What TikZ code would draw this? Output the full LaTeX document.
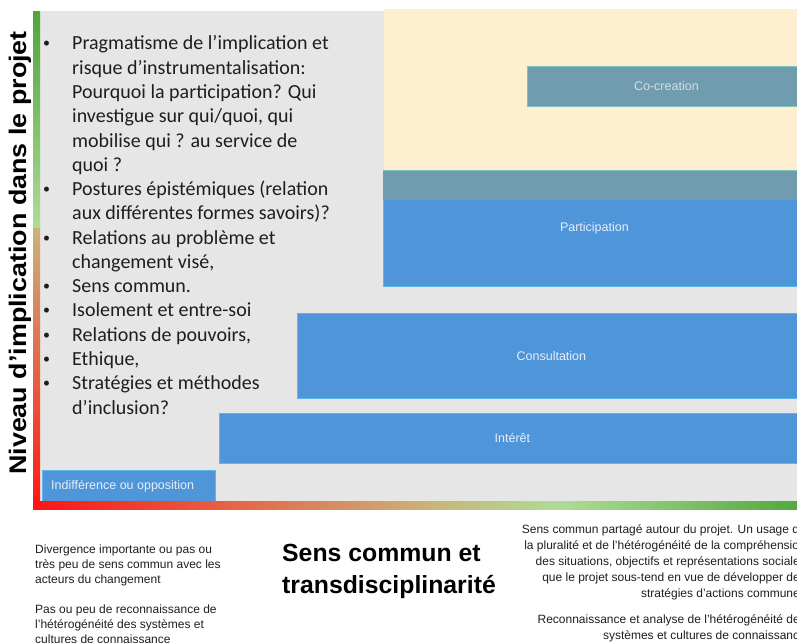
\documentclass[tikz,border=0pt]{standalone}
\usepackage{fontspec}
\usepackage{graphicx}
\setmainfont{Liberation Sans}
\newfontfamily\calib{Carlito}
\definecolor{panelgray}{HTML}{E6E6E6}
\definecolor{boxblue}{HTML}{4F95D9}
\definecolor{boxedge}{HTML}{5CB8E6}
\definecolor{teal}{HTML}{6F9DAF}
\definecolor{tealedge}{HTML}{7FC3BE}
\definecolor{beige}{HTML}{FEEFD0}
\definecolor{boxtxt}{HTML}{E6EEF8}
\definecolor{cotxt}{HTML}{D6DEE0}
\definecolor{axgreen}{HTML}{4FA53A}
\definecolor{axlgreen}{HTML}{AEDC96}
\definecolor{axtan}{HTML}{C9B479}
\definecolor{axorange}{HTML}{DC7A58}
\definecolor{axred}{HTML}{FF1414}
\definecolor{txt}{HTML}{1E1E1E}
\begin{document}
\begin{tikzpicture}[x=1pt,y=-1pt,
  bluebox/.style={fill=boxblue, draw=boxedge, line width=0.8pt, inner sep=0pt, text=boxtxt, font=\fontsize{12.5}{14}\selectfont},
  tealbox/.style={fill=teal, draw=tealedge, line width=0.8pt, inner sep=0pt, text=cotxt, font=\fontsize{12.5}{14}\selectfont},
  bul/.style={inner sep=0pt, text=txt, font=\calib\fontsize{20}{24}\selectfont},
  dotmark/.style={inner sep=0pt, text=txt, font=\calib\fontsize{14}{16}\selectfont},
  small/.style={inner sep=0pt, text=txt, font=\fontsize{12}{14}\selectfont},
  title/.style={inner sep=0pt, text=black, font=\bfseries\fontsize{24.8}{30}\selectfont}]
\useasboundingbox (0,0) rectangle (797,642);
\begin{scope}
\clip (0,0) rectangle (797,642);
% panels
\fill[panelgray] (40,11) rectangle (810,501);
\fill[beige] (384,9) rectangle (810,170);
% boxes
\node[bluebox, anchor=north west, minimum width=422pt, minimum height=116pt] (part) at (383,170) {Participation};
\fill[teal] (383,170) rectangle (810,200);
\draw[tealedge, line width=0.8pt] (383,170) -- (810,170);
\node[tealbox, anchor=north west, minimum width=278pt, minimum height=40pt] (cocr) at (527,66) {Co-creation};
\node[bluebox, anchor=north west, minimum width=508pt, minimum height=85pt] (cons) at (297,313) {Consultation};
\node[bluebox, anchor=north west, minimum width=586pt, minimum height=50pt] (inte) at (219,413) {Intérêt};
\node[bluebox, anchor=north west, minimum width=173pt, minimum height=31pt] (indi) at (42,470) {};
\node[inner sep=0pt, text=boxtxt, font=\fontsize{12.5}{14}\selectfont, anchor=west] (inditxt) at (51,486) {Indifférence ou opposition};
% axes
\shade[top color=axgreen, bottom color=axlgreen] (33,12) rectangle (40,228);
\shade[top color=axtan, middle color=axorange, bottom color=axred] (33,228) rectangle (40,509);
\shade[left color=axred, right color=axtan] (33,501) rectangle (430,509);
\shade[left color=axtan, right color=axlgreen] (430,501) rectangle (560,509);
\shade[left color=axlgreen, right color=axgreen] (560,501) rectangle (810,509);
\node[rotate=90, anchor=base, inner sep=0pt, text=black, font=\bfseries\fontsize{24}{28}\selectfont] (ylab) at (26,253) {\scalebox{1.12}[1]{Niveau d’implication dans le projet}};
% bullet list
\foreach \t [count=\i] in {{Pragmatisme de l’implication et},{risque d’instrumentalisation:},{Pourquoi la participation? Qui},{investigue sur qui/quoi, qui},{mobilise qui ? au service de},{quoi ?},{Postures épistémiques (relation},{aux différentes formes savoirs)?},{Relations au problème et},{changement visé,},{Sens commun.},{Isolement et entre-soi},{Relations de pouvoirs,},{Ethique,},{Stratégies et méthodes},{d’inclusion?}}
  \node[bul, anchor=base west] (line\i) at (72,{50+(\i-1)*24.27}) {\t};
\foreach \i in {1,7,9,11,12,13,14,15}
  \node[dotmark, anchor=base west] (dot\i) at (43,{48+(\i-1)*24.27}) {•};
% bottom left
\foreach \t [count=\i] in {{Divergence importante ou pas ou},{très peu de sens commun avec les},{acteurs du changement}}
  \node[small, anchor=base west] (la\i) at (35,{553+(\i-1)*15.3}) {\t};
\foreach \t [count=\i] in {{Pas ou peu de reconnaissance de},{l'hétérogénéité des systèmes et},{cultures de connaissance}}
  \node[small, anchor=base west] (lb\i) at (35,{613+(\i-1)*15.3}) {\t};
% title
\node[title, anchor=base west] (t1) at (282,561) {Sens commun et};
\node[title, anchor=base west] (t2) at (282,593) {transdisciplinarité};
% bottom right
\foreach \t [count=\i] in {{Sens commun partagé autour du projet. Un usage de},{la pluralité et de l’hétérogénéité de la compréhension},{des situations, objectifs et représentations sociales},{que le projet sous-tend en vue de développer des},{stratégies d'actions communes}}
  \node[small, anchor=base east] (ra\i) at (806,{533+(\i-1)*16}) {\t};
\foreach \t [count=\i] in {{Reconnaissance et analyse de l'hétérogénéité des},{systèmes et cultures de connaissance}}
  \node[small, anchor=base east] (rb\i) at (806,{623+(\i-1)*16}) {\t};
\end{scope}
\end{tikzpicture}
\end{document}
